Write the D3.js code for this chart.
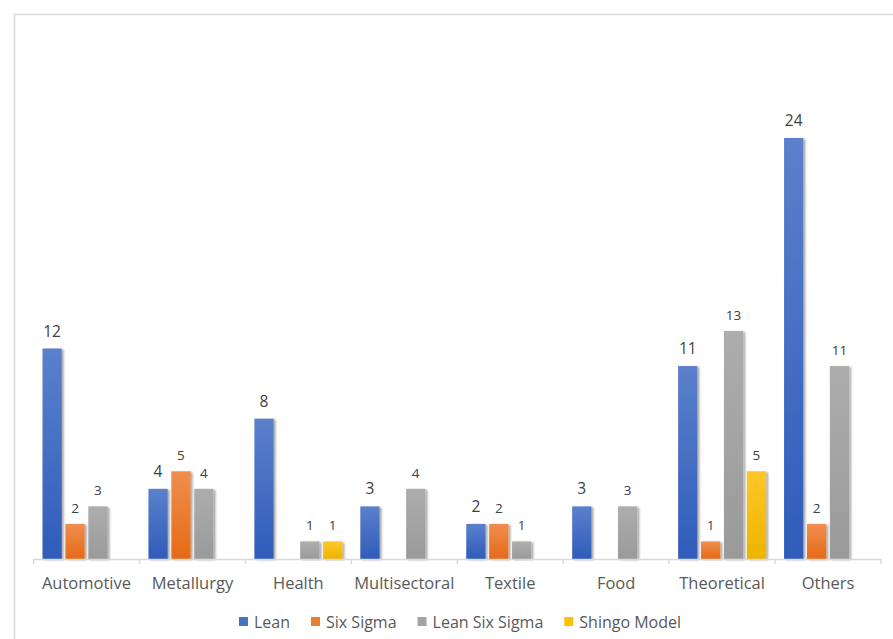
<!DOCTYPE html>
<html>
<head>
<meta charset="utf-8">
<script src="https://cdn.jsdelivr.net/npm/d3@7"></script>
<style>
  body { margin: 0; background: #fff; }
  svg text { font-family: "Open Sans", Lato, sans-serif; }
</style>
</head>
<body>
<svg id="chart" width="893" height="639"></svg>
<script>
// data
var categories = ['Automotive','Metallurgy','Health','Multisectoral','Textile','Food','Theoretical','Others'];
var seriesNames = ['Lean','Six Sigma','Lean Six Sigma','Shingo Model'];
var lean = [12,4,8,3,2,3,11,24];
var sixSigma = [2,5,0,0,2,0,1,2];
var leanSixSigma = [3,4,1,4,1,3,13,11];
var shingo = [0,0,1,0,0,0,5,0];

var colors = ['#4472C4','#ED7D31','#A5A5A5','#FFC000'];
var lightTop = ['#5B80CC','#F08E4F','#ADADAD','#FFC629'];
var darkBot = ['#2F5CBA','#E56A17','#9A9A9A','#EEB400'];

var allSeries = [lean, sixSigma, leanSixSigma, shingo];

var svg = d3.select('#chart');
var defs = svg.append('defs');

colors.forEach(function(c,i){
	var g = defs.append('linearGradient')
	.attr('id','grad'+i)
	.attr('x1',0).attr('y1',0).attr('x2',0).attr('y2',1);
	g.append('stop').attr('offset','0%').attr('stop-color',lightTop[i]);
	g.append('stop').attr('offset','100%').attr('stop-color',darkBot[i]);
});

var filter = defs.append('filter')
.attr('id','shadow')
.attr('x','-20%').attr('y','-5%')
.attr('width','150%').attr('height','115%');
filter.append('feGaussianBlur')
.attr('in','SourceAlpha')
.attr('stdDeviation',1.2)
.attr('result','blur');
filter.append('feOffset')
.attr('in','blur').attr('dx',1.5).attr('dy',0.5)
.attr('result','off');
filter.append('feComponentTransfer').attr('in','off').attr('result','soft')
.append('feFuncA').attr('type','linear').attr('slope',0.35);
var merge = filter.append('feMerge');
merge.append('feMergeNode').attr('in','soft');
merge.append('feMergeNode').attr('in','SourceGraphic');

// chart frame
svg.append('rect')
.attr('x',14.5).attr('y',14.5)
.attr('width',900).attr('height',700)
.attr('fill','none')
.attr('stroke','#d9d9d9')
.attr('stroke-width',1.5);

var x0 = d3.scaleBand()
.domain(categories)
.range([33.5,881])
.paddingInner(0)
.paddingOuter(0);

var x1 = d3.scaleBand()
.domain(d3.range(seriesNames.length))
.range([9, x0.bandwidth()-9])
.paddingInner(0.16)
.paddingOuter(0);

var y = d3.scaleLinear()
.domain([0,24])
.range([559,138]);

// bars
var groups = svg.selectAll('g.cat')
.data(categories)
.enter()
.append('g')
.attr('class','cat')
.attr('transform',(d)=>'translate('+x0(d)+',0)');

groups.each(function(cat,ci){
	var g = d3.select(this);
	allSeries.forEach(function(arr,si){
		var v = arr[ci];
		if(!v) return;
		g.append('rect')
		.attr('x',x1(si))
		.attr('y',y(v))
		.attr('width',x1.bandwidth())
		.attr('height',y(0)-y(v))
		.attr('fill','url(#grad'+si+')')
		.attr('filter','url(#shadow)');
		g.append('text')
		.text(v)
		.attr('x',x1(si)+x1.bandwidth()/2)
		.attr('y',y(v)-(si==0?12:11))
		.attr('text-anchor','middle')
		.style('font-size',si==0?'15.5px':'13.5px')
		.attr('fill','#404040');
	});
});

// axis
var xAxis = d3.axisBottom(x0).tickSize(0).tickPadding(18);
var axisG = svg.append('g')
.attr('transform','translate(0,559)')
.call(xAxis);
axisG.select('.domain').attr('stroke','#d9d9d9').attr('stroke-width',1.5);
axisG.selectAll('.tick text')
.style('font-size','16.5px')
.attr('fill','#595959');

// band boundary ticks
axisG.selectAll('line.bt')
.data(categories.concat(['end']))
.enter()
.append('line')
.attr('class','bt')
.attr('x1',(d,i)=>i<categories.length?x0(d):x0.range()[1])
.attr('x2',(d,i)=>i<categories.length?x0(d):x0.range()[1])
.attr('y1',0).attr('y2',5)
.attr('stroke','#d9d9d9')
.attr('stroke-width',1.5);

// legend
var legend = svg.append('g').attr('transform','translate(0,622)');
var items = legend.selectAll('g')
.data(seriesNames)
.enter()
.append('g');
items.append('rect')
.attr('width',9).attr('height',9)
.attr('y',-5)
.attr('fill',(d,i)=>colors[i]);
items.append('text')
.text((d)=>d)
.attr('x',15)
.attr('dy','0.35em')
.style('font-size','16px')
.attr('fill','#595959');

var xpos = 0, offs = [];
items.each(function(){
	offs.push(xpos);
	xpos += this.getBBox().width + 21;
});
var total = xpos - 21;
var startX = 460 - total/2;
items.attr('transform',(d,i)=>'translate('+(startX+offs[i])+',0)');
</script>
</body>
</html>
